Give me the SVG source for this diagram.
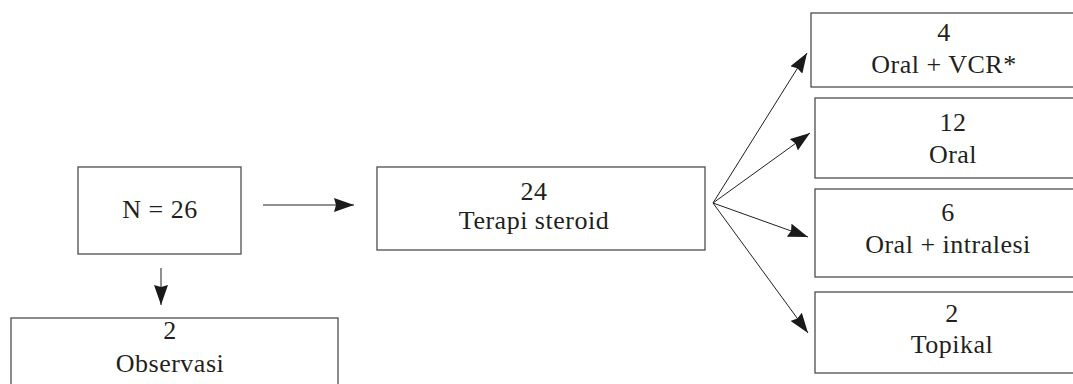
<svg xmlns="http://www.w3.org/2000/svg" width="1073" height="384" viewBox="0 0 1073 384">
  <style>
    .box { fill: #ffffff; stroke: #4d4d4d; stroke-width: 1.3; }
    .lbl { font-family: "Liberation Serif", "Times New Roman", serif; font-size: 26px; letter-spacing: 0.5px; fill: #231f20; text-anchor: middle; }
    .edge { stroke: #231f20; stroke-width: 1; fill: none; marker-end: url(#head); }
  </style>
  <defs>
    <marker id="head" viewBox="0 0 20 14" refX="20" refY="7" markerWidth="20" markerHeight="14" markerUnits="userSpaceOnUse" orient="auto">
      <path d="M0,0 L20,7 L0,14 L2,7 Z" fill="#1a1a1a"/>
    </marker>
  </defs>

  <rect width="1073" height="384" fill="#ffffff"/>

  <!-- connectors -->
  <g id="connectors">
    <line class="edge" x1="263" y1="205" x2="354" y2="205"/>
    <line class="edge" x1="161" y1="268" x2="161" y2="305"/>
    <line class="edge" x1="713" y1="203" x2="807" y2="53"/>
    <line class="edge" x1="713" y1="203" x2="810" y2="133"/>
    <line class="edge" x1="713" y1="203" x2="808" y2="237"/>
    <line class="edge" x1="713" y1="203" x2="808" y2="333"/>
  </g>

  <!-- sample -->
  <g id="node-total">
    <rect class="box" x="78" y="167" width="163" height="87"/>
    <text class="lbl" x="160" y="218">N = 26</text>
  </g>

  <g id="node-observasi">
    <rect class="box" x="11" y="318" width="327" height="90"/>
    <text class="lbl" x="170" y="339">2</text>
    <text class="lbl" x="170" y="372">Observasi</text>
  </g>

  <g id="node-terapi">
    <rect class="box" x="377" y="167" width="328" height="83"/>
    <text class="lbl" x="534" y="200">24</text>
    <text class="lbl" x="534" y="229">Terapi steroid</text>
  </g>

  <!-- treatment branches -->
  <g id="node-oral-vcr">
    <rect class="box" x="811" y="13" width="300" height="74"/>
    <text class="lbl" x="944" y="41">4</text>
    <text class="lbl" x="944" y="73">Oral + VCR*</text>
  </g>

  <g id="node-oral">
    <rect class="box" x="815" y="98" width="300" height="80"/>
    <text class="lbl" x="953" y="131">12</text>
    <text class="lbl" x="953" y="163">Oral</text>
  </g>

  <g id="node-oral-intralesi">
    <rect class="box" x="815" y="189" width="300" height="88"/>
    <text class="lbl" x="948" y="221">6</text>
    <text class="lbl" x="948" y="253">Oral + intralesi</text>
  </g>

  <g id="node-topikal">
    <rect class="box" x="815" y="292" width="300" height="81"/>
    <text class="lbl" x="952" y="322">2</text>
    <text class="lbl" x="952" y="353">Topikal</text>
  </g>
</svg>
